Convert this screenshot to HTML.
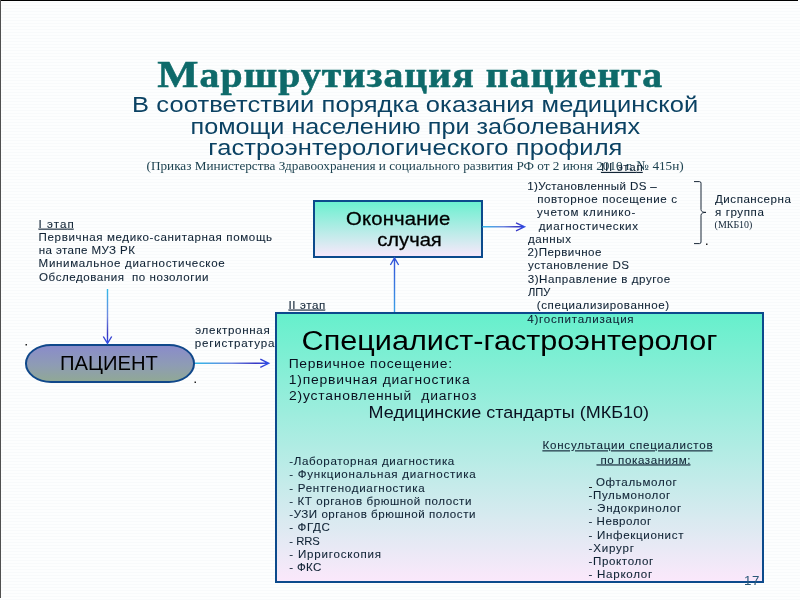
<!DOCTYPE html>
<html><head><meta charset="utf-8"><title>slide</title>
<style>
html,body{margin:0;padding:0;}
body{width:800px;height:600px;position:relative;overflow:hidden;background:repeating-linear-gradient(to bottom,#fdfefe 0,#fdfefe 2px,#f8fafb 2px,#f8fafb 3px);font-family:"Liberation Sans",sans-serif;}
.txt text{font-family:"Liberation Sans",sans-serif;white-space:pre;}
.txt .r{font-family:"Liberation Serif",serif;}
.txt .b{font-weight:bold;}
.txt .u{text-decoration:underline;}
.box{position:absolute;box-sizing:border-box;border:2px solid #0c4a8c;background:linear-gradient(to bottom,#66f0cc,#fbe8fb);}
#edgeT{position:absolute;left:0;top:0;width:798px;height:1px;background:#000;}
#edgeL{position:absolute;left:0;top:0;width:1px;height:598px;background:#505050;}
#pill{position:absolute;left:25px;top:344px;width:170px;height:38.5px;box-sizing:border-box;border:2px solid #10488a;border-radius:26px/19.25px;background:linear-gradient(to bottom,#8a8cca 0%,#8e9cb4 55%,#90a896 100%);}
svg{position:absolute;left:0;top:0;}
.txt{will-change:transform;}
</style></head><body>
<div id="edgeT"></div><div id="edgeL"></div>
<div class="box" style="left:275px;top:312px;width:489px;height:270.5px;"></div>
<div class="box" style="left:313px;top:200px;width:169.5px;height:57.5px;background:linear-gradient(to bottom,#6cf0d0,#f8e8fb);"></div>
<div id="pill"></div>
<svg width="800" height="600" viewBox="0 0 800 600" fill="none">
<defs>
<linearGradient id="gv" x1="0" y1="289" x2="0" y2="344" gradientUnits="userSpaceOnUse"><stop offset="0" stop-color="#30b8e8"/><stop offset="0.5" stop-color="#7088e0"/><stop offset="0.82" stop-color="#3838c4"/><stop offset="1" stop-color="#3050e8"/></linearGradient>
<linearGradient id="gh1" x1="195" y1="0" x2="269" y2="0" gradientUnits="userSpaceOnUse"><stop offset="0" stop-color="#30b8e8"/><stop offset="0.5" stop-color="#7088e0"/><stop offset="0.82" stop-color="#3838c4"/><stop offset="1" stop-color="#3050e8"/></linearGradient>
<linearGradient id="gh2" x1="482" y1="0" x2="525" y2="0" gradientUnits="userSpaceOnUse"><stop offset="0" stop-color="#30b8e8"/><stop offset="0.5" stop-color="#7088e0"/><stop offset="0.82" stop-color="#3838c4"/><stop offset="1" stop-color="#3050e8"/></linearGradient>
<linearGradient id="gu" x1="0" y1="312" x2="0" y2="257" gradientUnits="userSpaceOnUse"><stop offset="0" stop-color="#3aa0e8"/><stop offset="0.5" stop-color="#3a78e0"/><stop offset="1" stop-color="#3050d8"/></linearGradient>
</defs>
<!-- arrow I etap -> pill -->
<path d="M107.5 289V343.5M103.3 336.5L107.5 343.5L111.7 336.5" stroke="url(#gv)" stroke-width="1.4"/>
<!-- pill -> box -->
<path d="M195 363.3H268.7M260.3 359.2L268.7 363.3L260.3 367.4" stroke="url(#gh1)" stroke-width="1.4"/>
<!-- small box -> list -->
<path d="M482.5 226.8H524.5M516 222.8L524.5 226.8L516 230.8" stroke="url(#gh2)" stroke-width="1.4"/>
<!-- box -> small box (up) -->
<path d="M394.5 312V258M390.4 265L394.5 258L398.6 265" stroke="url(#gu)" stroke-width="1.4"/>
<!-- brace -->
<path d="M694 181.6H699.5Q701 181.6 701 183.2V209.5Q701 212.4 706 212.4Q701 212.4 701 215.3V242Q701 243.6 699.5 243.6H694" stroke="#1a2838" stroke-width="1"/>
<!-- dots -->
<g fill="#222"><rect x="25.5" y="344" width="1.5" height="1.5"/><rect x="194.5" y="381.5" width="1.5" height="1.5"/><rect x="706" y="243.5" width="1.5" height="1.5"/><rect x="589" y="487" width="3" height="1"/></g>
</svg>
<svg width="800" height="600" viewBox="0 0 800 600" class="txt" xml:space="preserve">
<text transform="translate(157.32 86.60) scale(1.1200 1)" font-size="35.50" fill="#0e6a6a" class="r b" letter-spacing="0.938" stroke="#0e6a6a" stroke-width="0.55"><tspan font-size="39.0">М</tspan>аршрутизация пациента</text>
<text transform="translate(131.98 111.80) scale(1.1200 1)" font-size="22.77" fill="#0b4263" letter-spacing="0.091">В соответствии порядка оказания медицинской</text>
<text transform="translate(190.59 133.60) scale(1.1073 1)" font-size="22.77" fill="#0b4263">помощи населению при заболеваниях</text>
<text transform="translate(208.32 154.60) scale(1.1200 1)" font-size="22.77" fill="#0b4263" letter-spacing="0.100">гастроэнтерологического профиля</text>
<text transform="translate(146.50 169.80) scale(0.9934 1)" font-size="13.33" fill="#1d4250" class="r">(Приказ Министерства Здравоохранения и социального развития РФ от 2 июня 2010 г. № 415н)</text>
<text transform="translate(38.49 227.70) scale(1.1200 1)" font-size="10.35" fill="#0f2234" class="u" letter-spacing="0.945" stroke="#0f2234" stroke-width="0.08">I эта<tspan letter-spacing="0">п</tspan></text>
<text transform="translate(38.60 240.95) scale(1.1200 1)" font-size="10.35" fill="#0f2234" letter-spacing="0.553" stroke="#0f2234" stroke-width="0.08">Первичная медико-санитарная помощь</text>
<text transform="translate(38.72 254.20) scale(1.1200 1)" font-size="10.35" fill="#0f2234" letter-spacing="0.354" stroke="#0f2234" stroke-width="0.08">на этапе МУЗ РК</text>
<text transform="translate(38.60 267.45) scale(1.1200 1)" font-size="10.35" fill="#0f2234" letter-spacing="0.582" stroke="#0f2234" stroke-width="0.08">Минимальное диагностическое</text>
<text transform="translate(39.05 280.70) scale(1.1200 1)" font-size="10.35" fill="#0f2234" letter-spacing="0.485" stroke="#0f2234" stroke-width="0.08">Обследования  по нозологии</text>
<text transform="translate(59.94 370.00) scale(0.9773 1)" font-size="20.70" fill="#000">ПАЦИЕНТ</text>
<text transform="translate(195.28 333.75) scale(1.1200 1)" font-size="10.35" fill="#0f2234" letter-spacing="0.599" stroke="#0f2234" stroke-width="0.08">электронная</text>
<text transform="translate(194.83 347.00) scale(1.1200 1)" font-size="10.35" fill="#0f2234" letter-spacing="0.672" stroke="#0f2234" stroke-width="0.08">регистратура</text>
<text transform="translate(288.49 308.60) scale(1.1200 1)" font-size="10.35" fill="#0f2234" class="u" letter-spacing="0.532" stroke="#0f2234" stroke-width="0.08">II эта<tspan letter-spacing="0">п</tspan></text>
<text transform="translate(346.10 225.00) scale(1.1200 1)" font-size="18.11" fill="#000" letter-spacing="0.138" stroke="#000" stroke-width="0.3">Окончание</text>
<text transform="translate(377.22 245.50) scale(1.1143 1)" font-size="18.11" fill="#000" stroke="#000" stroke-width="0.3">случая</text>
<text transform="translate(600.99 171.00) scale(1.1200 1)" font-size="10.35" fill="#0f2234" class="u" letter-spacing="0.683" stroke="#0f2234" stroke-width="0.08">III эта<tspan letter-spacing="0">п</tspan></text>
<text transform="translate(527.22 190.00) scale(1.1200 1)" font-size="10.35" fill="#0f2234" letter-spacing="0.323" stroke="#0f2234" stroke-width="0.08">1)Установленный DS –</text>
<text transform="translate(537.22 203.20) scale(1.1200 1)" font-size="10.35" fill="#0f2234" letter-spacing="0.518" stroke="#0f2234" stroke-width="0.08">повторное посещение с</text>
<text transform="translate(537.00 216.40) scale(1.1200 1)" font-size="10.35" fill="#0f2234" letter-spacing="0.699" stroke="#0f2234" stroke-width="0.08">учетом клинико-</text>
<text transform="translate(538.64 229.70) scale(1.1200 1)" font-size="10.35" fill="#0f2234" letter-spacing="0.604" stroke="#0f2234" stroke-width="0.08">диагностических</text>
<text transform="translate(527.89 243.00) scale(1.1200 1)" font-size="10.35" fill="#0f2234" letter-spacing="0.545" stroke="#0f2234" stroke-width="0.08">данных</text>
<text transform="translate(527.44 256.20) scale(1.1200 1)" font-size="10.35" fill="#0f2234" letter-spacing="0.408" stroke="#0f2234" stroke-width="0.08">2)Первичное</text>
<text transform="translate(528.00 269.40) scale(1.1200 1)" font-size="10.35" fill="#0f2234" letter-spacing="0.479" stroke="#0f2234" stroke-width="0.08">установление DS</text>
<text transform="translate(527.66 282.60) scale(1.1200 1)" font-size="10.35" fill="#0f2234" letter-spacing="0.501" stroke="#0f2234" stroke-width="0.08">3)Направление в другое</text>
<text transform="translate(528.00 295.80) scale(1.0749 1)" font-size="10.35" fill="#0f2234" stroke="#0f2234" stroke-width="0.08">ЛПУ</text>
<text transform="translate(536.83 309.30) scale(1.1200 1)" font-size="10.35" fill="#0f2234" letter-spacing="0.500" stroke="#0f2234" stroke-width="0.08">(специализированное)</text>
<text transform="translate(527.28 322.50) scale(1.1200 1)" font-size="10.35" fill="#0f2234" letter-spacing="0.668" stroke="#0f2234" stroke-width="0.08">4)госпитализация</text>
<text transform="translate(715.00 203.25) scale(1.1200 1)" font-size="10.35" fill="#0f2234" letter-spacing="0.461" stroke="#0f2234" stroke-width="0.08">Диспансерна</text>
<text transform="translate(715.00 216.25) scale(1.1200 1)" font-size="10.35" fill="#0f2234" letter-spacing="0.524" stroke="#0f2234" stroke-width="0.08">я группа</text>
<text transform="translate(714.60 227.50) scale(0.9964 1)" font-size="10.00" fill="#0f2234" class="r">(МКБ10)</text>
<text transform="translate(301.56 350.00) scale(1.1099 1)" font-size="27.60" fill="#000">Специалист-гастроэнтеролог</text>
<text transform="translate(288.63 368.00) scale(1.1200 1)" font-size="12.42" fill="#0a1020" letter-spacing="0.593">Первичное посещение:</text>
<text transform="translate(288.74 383.80) scale(1.1200 1)" font-size="12.42" fill="#0a1020" letter-spacing="0.699">1)первичная диагностика</text>
<text transform="translate(289.08 399.60) scale(1.1200 1)" font-size="12.42" fill="#0a1020" letter-spacing="0.690">2)установленный  диагноз</text>
<text transform="translate(368.59 417.50) scale(1.0881 1)" font-size="16.56" fill="#0a1020">Медицинские стандарты (МКБ10)</text>
<text transform="translate(289.25 464.90) scale(1.1200 1)" font-size="10.35" fill="#0f2234" letter-spacing="0.563" stroke="#0f2234" stroke-width="0.08">-Лабораторная диагностика</text>
<text transform="translate(289.25 478.20) scale(1.1200 1)" font-size="10.35" fill="#0f2234" letter-spacing="0.657" stroke="#0f2234" stroke-width="0.08">- Функциональная диагностика</text>
<text transform="translate(289.25 491.50) scale(1.1200 1)" font-size="10.35" fill="#0f2234" letter-spacing="0.630" stroke="#0f2234" stroke-width="0.08">- Рентгенодиагностика</text>
<text transform="translate(289.25 504.80) scale(1.1200 1)" font-size="10.35" fill="#0f2234" letter-spacing="0.523" stroke="#0f2234" stroke-width="0.08">- КТ органов брюшной полости</text>
<text transform="translate(289.25 518.10) scale(1.1200 1)" font-size="10.35" fill="#0f2234" letter-spacing="0.477" stroke="#0f2234" stroke-width="0.08">-УЗИ органов брюшной полости</text>
<text transform="translate(289.25 531.40) scale(1.1200 1)" font-size="10.35" fill="#0f2234" letter-spacing="0.527" stroke="#0f2234" stroke-width="0.08">- ФГДС</text>
<text transform="translate(289.26 544.70) scale(1.0887 1)" font-size="10.35" fill="#0f2234" stroke="#0f2234" stroke-width="0.08">- RRS</text>
<text transform="translate(289.25 558.00) scale(1.1200 1)" font-size="10.35" fill="#0f2234" letter-spacing="0.705" stroke="#0f2234" stroke-width="0.08">- Ирригоскопия</text>
<text transform="translate(289.25 571.30) scale(1.1200 1)" font-size="10.35" fill="#0f2234" letter-spacing="0.286" stroke="#0f2234" stroke-width="0.08">- ФКС</text>
<text transform="translate(542.50 449.40) scale(1.1200 1)" font-size="10.35" fill="#0f2234" class="u" letter-spacing="0.676" stroke="#0f2234" stroke-width="0.08">Консультации специалисто<tspan letter-spacing="0">в</tspan></text>
<text transform="translate(596.60 463.50) scale(1.1200 1)" font-size="10.35" fill="#0f2234" class="u" letter-spacing="0.532" stroke="#0f2234" stroke-width="0.08"> по показаниям<tspan letter-spacing="0">:</tspan></text>
<text transform="translate(595.95 486.00) scale(1.1200 1)" font-size="10.35" fill="#0f2234" letter-spacing="0.580" stroke="#0f2234" stroke-width="0.08">Офтальмолог</text>
<text transform="translate(588.55 499.00) scale(1.1200 1)" font-size="10.35" fill="#0f2234" letter-spacing="0.539" stroke="#0f2234" stroke-width="0.08">-Пульмонолог</text>
<text transform="translate(588.55 512.20) scale(1.1200 1)" font-size="10.35" fill="#0f2234" letter-spacing="0.658" stroke="#0f2234" stroke-width="0.08">- Эндокринолог</text>
<text transform="translate(588.55 525.30) scale(1.1200 1)" font-size="10.35" fill="#0f2234" letter-spacing="0.445" stroke="#0f2234" stroke-width="0.08">- Невролог</text>
<text transform="translate(588.55 538.50) scale(1.1200 1)" font-size="10.35" fill="#0f2234" letter-spacing="0.597" stroke="#0f2234" stroke-width="0.08">- Инфекционист</text>
<text transform="translate(588.55 551.60) scale(1.1200 1)" font-size="10.35" fill="#0f2234" letter-spacing="0.704" stroke="#0f2234" stroke-width="0.08">-Хирург</text>
<text transform="translate(588.55 564.80) scale(1.1200 1)" font-size="10.35" fill="#0f2234" letter-spacing="0.548" stroke="#0f2234" stroke-width="0.08">-Проктолог</text>
<text transform="translate(588.55 578.00) scale(1.1200 1)" font-size="10.35" fill="#0f2234" letter-spacing="0.640" stroke="#0f2234" stroke-width="0.08">- Нарколог</text>
<text transform="translate(743.99 584.75) scale(1.1200 1)" font-size="11.90" fill="#2a5878" letter-spacing="0.458">17</text>
</svg>
</body></html>
